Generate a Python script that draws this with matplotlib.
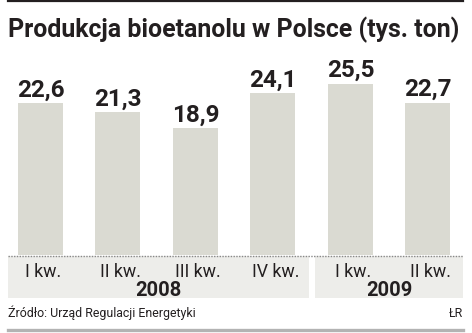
import matplotlib
matplotlib.use("Agg")
import matplotlib.pyplot as plt
from matplotlib.patches import Rectangle
from matplotlib.lines import Line2D

# data
quarters = ["I kw.", "II kw.", "III kw.", "IV kw.", "I kw.", "II kw."]
values = [22.6, 21.3, 18.9, 24.1, 25.5, 22.7]
years = ["2008", "2009"]
year_quarters = [4, 2]
labels = ["22,6", "21,3", "18,9", "24,1", "25,5", "22,7"]

W, H = 472, 333
fig = plt.figure(figsize=(W / 100, H / 100), dpi=100)
plt.rcParams["font.family"] = ["Roboto", "DejaVu Sans"]

def fx(px):
    return px / W

def fy(py):
    return 1 - py / H

dark = "#231f20"
bar_col = "#dadad2"
panel_col = "#ededea"

# top black rule and bottom gray rule
fig.add_artist(Line2D([fx(8), fx(463)], [fy(1), fy(1)], color=dark, lw=1.6))
fig.add_artist(Line2D([fx(8), fx(463)], [fy(329.5), fy(329.5)], color="#b3b3b3", lw=2.4))

# title
fig.text(fx(8), fy(37), "Produkcja bioetanolu w Polsce (tys. ton)", fontsize=17.9,
         fontweight="bold", color=dark, ha="left", va="baseline")

# bar axes
left_px, right_px = 8, 463
base_px = 255
x_left = -0.419
x_right = 5.452
ymax = 28
top_px = base_px - ymax * 6.71
ax = fig.add_axes([fx(left_px), fy(base_px), fx(right_px - left_px), (base_px - top_px) / H])
x = list(range(len(values)))
ax.bar(x, values, width=0.58, color=bar_col)
for xi, v, lab in zip(x, values, labels):
    ax.text(xi, v + 1.0, lab, ha="center", va="baseline", fontsize=17.5, fontweight="bold", color=dark)
ax.set_xlim(x_left, x_right)
ax.set_ylim(0, ymax)
ax.axis("off")

# category panel axes
cax = fig.add_axes([fx(left_px), fy(298), fx(right_px - left_px), 42 / H])
cax.set_xlim(x_left, x_right)
cax.set_ylim(0, 1)
cax.axis("off")
start = 0
for i, (yr, n) in enumerate(zip(years, year_quarters)):
    lo = x_left if i == 0 else start - 0.5 + 0.04
    hi = x_right if i == len(years) - 1 else start + n - 0.5 - 0.04
    cax.add_patch(Rectangle((lo, 0), hi - lo, 1, color=panel_col, lw=0))
    cax.text((lo + hi) / 2, 0.04, yr, ha="center", va="baseline", fontsize=14.5,
             fontweight="bold", color=dark)
    start += n
for xi, q in zip(x, quarters):
    cax.text(xi + 0.03, 0.5, q, ha="center", va="baseline", fontsize=12.8, color=dark)

# dotted baseline
fig.add_artist(Line2D([fx(8), fx(463)], [fy(255.5), fy(255.5)], color="#888888",
                      lw=1.0, linestyle=(0, (1, 1))))

# footer
fig.text(fx(8), fy(317), "Źródło: Urząd Regulacji Energetyki", fontsize=8.9,
         color=dark, ha="left", va="baseline")
fig.text(fx(463), fy(317), "ŁR", fontsize=8.9, color=dark, ha="right", va="baseline")

fig.savefig("out.png", dpi=100, facecolor="white")
